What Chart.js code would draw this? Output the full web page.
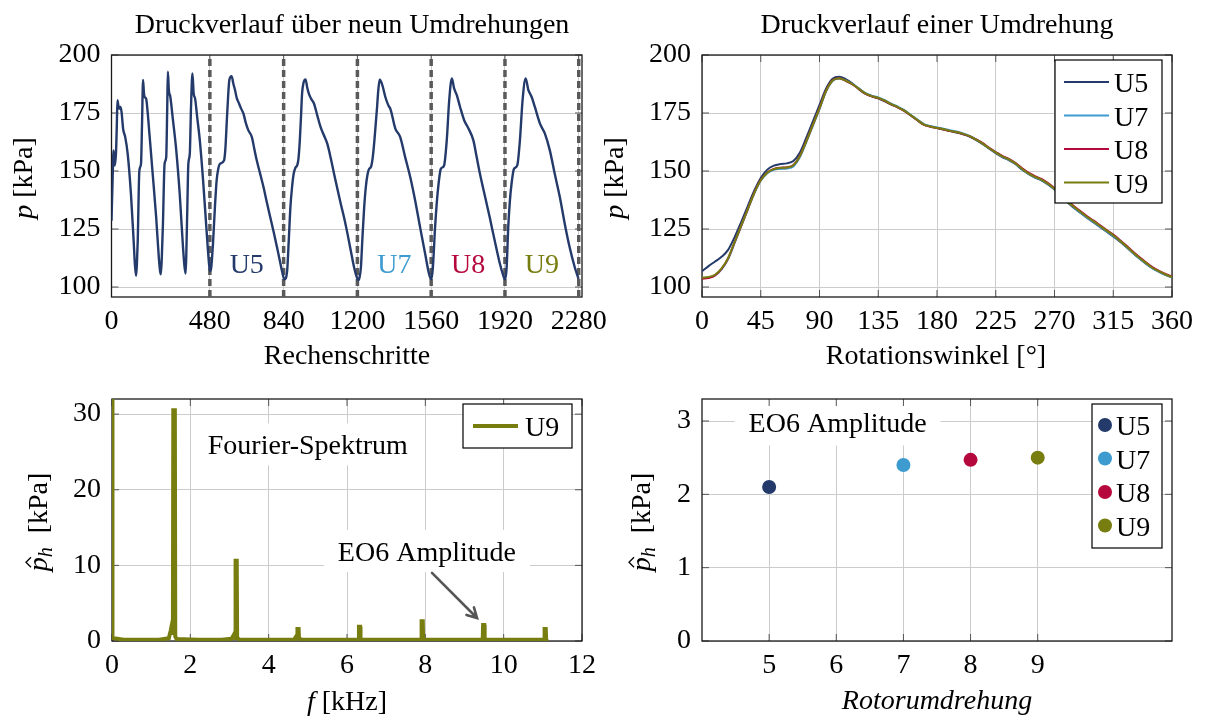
<!DOCTYPE html>
<html>
<head>
<meta charset="utf-8">
<script src="https://cdn.jsdelivr.net/npm/chart.js@4.4.1/dist/chart.umd.min.js"></script>
<style>
  body { margin: 0; background: #fff; }
  #wrap { position: relative; width: 1206px; height: 717px; }
  #wrap canvas { position: absolute; left: 0; top: 0; }
</style>
</head>
<body>
<div id="wrap">
  <canvas id="cycles" width="1206" height="717"></canvas>
  <canvas id="oneRev" width="1206" height="717"></canvas>
  <canvas id="spectrum" width="1206" height="717"></canvas>
  <canvas id="eo6" width="1206" height="717"></canvas>
</div>
<script>
// --- pressure over nine revolutions (simulation steps) ---
const stepIdx = [
  0, 5, 10, 16, 22, 26, 29, 33, 38, 43, 49, 57, 67, 79, 95, 108, 114, 120,
  124, 128, 136, 144, 149, 154, 158, 161, 169, 177, 185, 201, 218, 231, 237, 241,
  246, 251, 259, 267, 272, 275, 280, 287, 300, 316, 333, 349, 356, 362,
  366, 370, 375, 382, 388, 395, 401, 408, 418, 431, 447, 464, 474, 480,
  486, 496, 505, 513, 521, 529, 549, 556, 562, 569, 575, 586, 595, 603, 611, 619,
  632, 644, 656, 668, 685, 697, 709, 725, 742, 758, 775, 792, 808, 820, 832, 844,
  857, 865, 873, 881, 889, 898, 906, 912, 919, 925, 930, 937, 947, 955, 963, 975,
  988, 1004, 1020, 1036, 1053, 1070, 1086, 1103, 1119, 1136, 1152, 1168, 1184, 1196, 1204,
  1210, 1217, 1225, 1233, 1241, 1250, 1258, 1266, 1275, 1283, 1290, 1296, 1302, 1309,
  1318, 1324, 1336, 1350, 1362, 1385, 1409, 1433, 1458, 1482, 1506, 1531, 1550, 1560,
  1568, 1579, 1588, 1596, 1607, 1623, 1636, 1648, 1661, 1672, 1685, 1701, 1721, 1742,
  1766, 1782, 1798, 1815, 1831, 1847, 1863, 1880, 1896, 1910, 1920,
  1928, 1936, 1944, 1952, 1964, 1980, 1993, 2006, 2021, 2034, 2050, 2066, 2091, 2115,
  2139, 2163, 2188, 2212, 2236, 2261, 2279
];
const pStep = [
  128.6, 145, 158.9, 152.4, 158, 170, 180.5, 178.5, 176.9, 177.6, 175.5, 168, 164.6, 157.4, 140, 120, 110, 104.8,
  110, 119.9, 150.2, 153.1, 170.4, 189.2, 184, 182, 181.2, 174.7, 166.1, 148.8, 130, 112.7, 107, 105.5,
  114, 127.1, 153.1, 156, 177.6, 192.8, 184.8, 182, 171.9, 158.9, 140, 117, 109, 105.8,
  118, 134.3, 153.1, 157.4, 177.6, 192.1, 183.4, 181.2, 173.3, 163.2, 145.9, 124.2, 112, 106.9,
  108, 119.9, 135, 145.9, 151, 153.1, 154.5, 160, 170.4, 182, 189.2, 190.9, 187.5, 184.8, 181.5, 179.8,
  177, 174.7, 170.5, 167.5, 164.6, 159.5, 154.5, 149, 143, 136.5, 130, 123.5, 117, 112, 106.9, 103.3,
  106.9, 120, 134.3, 143, 148.8, 151.5, 152.4, 155, 163.2, 174, 183.4, 188, 189.5, 186, 183.4, 181,
  179.1, 174, 169, 165.5, 161.8, 155.5, 148.8, 142, 135.8, 129.5, 122.8, 115.5, 108.4, 104.5, 102.9,
  104, 108.4, 122, 134.3, 143, 148.8, 151, 151.7, 156, 163.2, 171, 177.6, 185, 189.5,
  188, 186.3, 182, 178.5, 176.5, 168.3, 164.6, 156, 147.3, 137.2, 125.7, 114.1, 105.5, 103.3,
  108, 125.7, 137, 144.4, 150.9, 152.4, 163.2, 180.5, 189.9, 185.6, 182.7, 177.6, 171.9, 168.3,
  163.2, 156, 148.8, 142, 135.8, 129.5, 122.8, 116, 109.8, 105.5, 103.3,
  108, 125.7, 137, 144.4, 150.9, 152.4, 163.2, 180.5, 189.9, 185, 182, 177.6, 170.4, 166.1,
  158.9, 148.8, 138.7, 127.2, 117, 108.4, 103.5
];
const revBounds = [480, 840, 1200, 1560, 1920, 2280];
const revNames = ['U5', 'U7', 'U8', 'U9'];
const revNameSteps = [660, 1380, 1740, 2100];
const stepTicks = [0, 480, 840, 1200, 1560, 1920, 2280];
const pTicks = [100, 125, 150, 175, 200];

// --- pressure over one revolution, 5° samples ---
const angles = [
  0, 5, 10, 15, 20, 25, 30, 35, 40, 45, 50, 55, 60, 65, 70, 75, 80, 85, 90, 95,
  100, 105, 110, 115, 120, 125, 130, 135, 140, 145, 150, 155, 160, 165, 170, 175, 180, 185, 190, 195,
  200, 205, 210, 215, 220, 225, 230, 235, 240, 245, 250, 255, 260, 265, 270, 275, 280, 285, 290, 295,
  300, 305, 310, 315, 320, 325, 330, 335, 340, 345, 350, 355, 360
];
const pU5 = [
  106.8, 109.0, 111.0, 113.0, 116.0, 121.5, 128.0, 134.8, 141.5, 147.0, 150.6, 152.3, 153.0, 153.3, 154.3, 158.0, 164.5, 171.5, 178.5, 185.5,
  189.8, 190.6, 189.6, 187.8, 185.4, 183.3, 182.2, 181.3, 180.0, 178.6, 177.4, 175.9, 173.9, 171.9, 170.0, 169.2, 168.5, 167.9, 167.2, 166.6,
  165.8, 164.8, 163.3, 161.6, 159.6, 157.7, 156.0, 154.7, 153.0, 150.7, 148.8, 147.2, 146.0, 144.2, 142.0, 139.2, 136.4, 134.1, 131.9, 129.8,
  127.8, 125.8, 123.8, 121.8, 119.6, 117.2, 114.7, 112.3, 110.1, 108.1, 106.6, 105.2, 104.1
];
const pU7 = [
  103.8, 104.1, 105.0, 107.6, 112.0, 119.0, 126.2, 133.3, 140.3, 145.8, 149.0, 150.5, 150.9, 151.1, 152.0, 156.0, 162.6, 169.6, 176.7, 184.2,
  188.8, 189.9, 189.0, 187.6, 185.7, 183.7, 182.5, 181.7, 180.5, 179.0, 177.7, 176.2, 174.2, 172.2, 170.2, 169.4, 168.8, 168.2, 167.6, 167.0,
  166.2, 165.1, 163.6, 161.8, 159.8, 158.0, 156.3, 154.9, 153.2, 150.9, 148.9, 147.4, 146.2, 144.4, 142.2, 139.4, 136.7, 134.3, 132.0, 129.9,
  128.0, 126.0, 124.0, 122.0, 119.8, 117.4, 114.8, 112.4, 110.2, 108.1, 106.6, 105.2, 104.1
];
const pU8 = [
  103.6, 103.9, 105.0, 107.8, 112.3, 119.3, 126.4, 133.5, 140.6, 146.1, 149.4, 150.9, 151.4, 151.6, 152.6, 156.6, 163.1, 170.1, 177.1, 184.6,
  189.1, 190.0, 188.9, 187.4, 185.4, 183.4, 182.2, 181.4, 180.2, 178.7, 177.4, 175.9, 173.9, 171.9, 169.9, 169.1, 168.5, 167.9, 167.2, 166.7,
  165.9, 165.0, 163.6, 162.0, 160.0, 158.2, 156.5, 155.2, 153.5, 151.3, 149.3, 147.8, 146.6, 144.8, 142.6, 139.8, 137.1, 134.8, 132.6, 130.5,
  128.6, 126.6, 124.6, 122.6, 120.3, 117.9, 115.3, 112.9, 110.7, 108.6, 107.0, 105.6, 104.5
];
const pU9 = [
  104.0, 104.3, 105.3, 108.0, 112.5, 119.5, 126.5, 133.5, 140.5, 146.0, 149.3, 150.8, 151.3, 151.5, 152.5, 156.5, 163.0, 170.0, 177.0, 184.5,
  189.0, 190.0, 189.0, 187.5, 185.5, 183.5, 182.3, 181.5, 180.3, 178.8, 177.5, 176.0, 174.0, 172.0, 170.0, 169.2, 168.6, 168.0, 167.3, 166.8,
  166.0, 165.0, 163.5, 161.8, 159.8, 158.0, 156.3, 155.0, 153.3, 151.0, 149.0, 147.5, 146.3, 144.5, 142.3, 139.5, 136.8, 134.5, 132.3, 130.2,
  128.3, 126.3, 124.3, 122.3, 120.0, 117.6, 115.0, 112.6, 110.4, 108.3, 106.8, 105.4, 104.3
];
const angleTicks = [0, 45, 90, 135, 180, 225, 270, 315, 360];

// --- Fourier spectrum of U9 ---
const freqKHz = [
  0, 0.012, 0.3, 0.8, 1.2, 1.45, 1.50, 1.535, 1.555, 1.565, 1.605, 1.615, 1.65, 2.2, 2.8,
  3.05, 3.10, 3.13, 3.145, 3.155, 3.185, 3.195, 3.25, 4.0, 4.65, 4.70, 4.725, 4.735, 4.765, 4.775,
  4.85, 5.6, 6.295, 6.305, 6.335, 6.345, 7.1, 7.895, 7.905, 7.935, 7.945, 8.7,
  9.465, 9.475, 9.505, 9.515, 10.3, 11.035, 11.045, 11.075, 11.085, 11.1
];
const ampU9 = [
  45, 0.4, 0.18, 0.15, 0.18, 0.35, 1.4, 2.3, 0.8, 30.5, 30.5, 0.6, 0.25, 0.15, 0.18,
  0.3, 0.7, 1.0, 0.4, 10.6, 10.6, 0.4, 0.2, 0.15, 0.2, 0.6, 0.3, 1.6, 1.6, 0.3,
  0.18, 0.15, 0.2, 1.9, 1.9, 0.2, 0.15, 0.2, 2.6, 2.6, 0.2, 0.15,
  0.2, 2.1, 2.1, 0.2, 0.15, 0.2, 1.6, 1.6, 0.2, 0.15
];
const freqTicks = [0, 2, 4, 6, 8, 10, 12];
const ampTicks = [0, 10, 20, 30];

// --- EO6 amplitude per rotor revolution ---
const rotorRev = [5, 7, 8, 9];
const eo6Names = ['U5', 'U7', 'U8', 'U9'];
const eo6Amp = [2.1, 2.4, 2.47, 2.5];
const revTicks = [5, 6, 7, 8, 9];
const eo6Ticks = [0, 1, 2, 3];

const seriesColor = { U5: '#233a6a', U7: '#3d9bd0', U8: '#b5093d', U9: '#787d0f' };

const SERIF = '"Liberation Serif", "DejaVu Serif", serif';
const FS = 28;
const font = (size, style) => (style ? style + ' ' : '') + size + 'px ' + SERIF;
const ROMAN = font(FS), ITALIC = font(FS, 'italic');

// draws a run of differently styled text pieces centred on x, baseline at y
function drawParts(ctx, parts, x, y, rot) {
  ctx.save();
  ctx.translate(x, y);
  if (rot) ctx.rotate(rot);
  ctx.textAlign = 'left';
  ctx.textBaseline = 'alphabetic';
  let w = 0;
  for (const p of parts) { ctx.font = p.font || ROMAN; w += ctx.measureText(p.t).width; }
  let cx = -w / 2;
  for (const p of parts) {
    ctx.font = p.font || ROMAN;
    ctx.fillStyle = p.color || '#000';
    const pw = ctx.measureText(p.t).width;
    ctx.fillText(p.t, cx, p.dy || 0);
    if (p.hat) {
      const hx = cx + pw / 2 + 2;
      ctx.strokeStyle = '#000';
      ctx.lineWidth = 1.3;
      ctx.beginPath();
      ctx.moveTo(hx - 5, -16); ctx.lineTo(hx, -21); ctx.lineTo(hx + 5, -16);
      ctx.stroke();
    }
    cx += pw;
  }
  ctx.restore();
}

// titles, axis labels, in-plot notes, arrow, frame with inward ticks
const panelText = {
  id: 'panelText',
  beforeDatasetsDraw(chart, args, o) {
    const { ctx, chartArea: a, scales: { x, y } } = chart;
    (o.notes || []).forEach(n => {
      const px = x.getPixelForValue(n.at[0]), py = y.getPixelForValue(n.at[1]);
      if (n.box) {
        ctx.fillStyle = '#fff';
        ctx.fillRect(px - n.box[0], py - n.box[1], n.box[0] * 2, n.box[1] * 2);
      }
      drawParts(ctx, n.parts, px, py + 10);
    });
    ctx.save();
    ctx.strokeStyle = '#555';
    ctx.lineWidth = 1;
    ctx.beginPath();
    x.ticks.forEach(t => {
      const px = x.getPixelForValue(t.value);
      ctx.moveTo(px, a.bottom); ctx.lineTo(px, a.bottom - 7);
      ctx.moveTo(px, a.top); ctx.lineTo(px, a.top + 7);
    });
    y.ticks.forEach(t => {
      const py = y.getPixelForValue(t.value);
      ctx.moveTo(a.left, py); ctx.lineTo(a.left + 7, py);
      ctx.moveTo(a.right, py); ctx.lineTo(a.right - 7, py);
    });
    ctx.stroke();
    ctx.strokeStyle = '#1a1a1a';
    ctx.lineWidth = 1.3;
    ctx.strokeRect(a.left, a.top, a.right - a.left, a.bottom - a.top);
    ctx.restore();
  },
  afterDatasetsDraw(chart, args, o) {
    const { ctx, scales: { x, y } } = chart;
    if (o.arrow) {
      const x0 = x.getPixelForValue(o.arrow.from[0]), y0 = y.getPixelForValue(o.arrow.from[1]);
      const x1 = x.getPixelForValue(o.arrow.to[0]), y1 = y.getPixelForValue(o.arrow.to[1]);
      const ang = Math.atan2(y1 - y0, x1 - x0);
      ctx.save();
      ctx.strokeStyle = '#555';
      ctx.lineWidth = 2.6;
      ctx.lineCap = 'round';
      ctx.beginPath();
      ctx.moveTo(x0, y0); ctx.lineTo(x1, y1);
      ctx.moveTo(x1 - 11 * Math.cos(ang - 0.5), y1 - 11 * Math.sin(ang - 0.5));
      ctx.lineTo(x1, y1);
      ctx.lineTo(x1 - 11 * Math.cos(ang + 0.5), y1 - 11 * Math.sin(ang + 0.5));
      ctx.stroke();
      ctx.restore();
    }
  },
  afterDraw(chart, args, o) {
    const { ctx } = chart;
    if (o.title) drawParts(ctx, o.title.parts, o.title.x, o.title.y);
    if (o.xTitle) drawParts(ctx, o.xTitle.parts, o.xTitle.x, o.xTitle.y);
    if (o.yTitle) drawParts(ctx, o.yTitle.parts, o.yTitle.x, o.yTitle.y, -Math.PI / 2);
  }
};

// framed legend inside the upper right corner of the plot
const boxLegend = {
  id: 'boxLegend',
  afterDatasetsDraw(chart, args, o) {
    if (!o.kind) return;
    const { ctx, chartArea: a } = chart;
    const items = chart.data.datasets.filter(d => d.label);
    const x0 = a.right - 10 - o.width, y0 = a.top + 5;
    ctx.save();
    ctx.fillStyle = '#fff';
    ctx.fillRect(x0, y0, o.width, o.height);
    ctx.strokeStyle = '#000';
    ctx.lineWidth = 1.2;
    ctx.strokeRect(x0, y0, o.width, o.height);
    ctx.font = ROMAN;
    ctx.textBaseline = 'alphabetic';
    ctx.textAlign = 'left';
    items.forEach((d, i) => {
      const yy = y0 + o.firstRow + i * o.rowGap;
      if (o.kind === 'line') {
        ctx.strokeStyle = d.borderColor;
        ctx.lineWidth = o.lineWidth;
        ctx.beginPath();
        ctx.moveTo(x0 + o.sampleX, yy); ctx.lineTo(x0 + o.sampleX + o.sampleW, yy);
        ctx.stroke();
      } else {
        ctx.fillStyle = d.backgroundColor;
        ctx.beginPath();
        ctx.arc(x0 + o.sampleX, yy, 7, 0, Math.PI * 2);
        ctx.fill();
      }
      ctx.fillStyle = '#000';
      ctx.fillText(d.label, x0 + o.textX, yy + 10);
    });
    ctx.restore();
  }
};

function axis(min, max, tickVals, horizontal, pad) {
  return {
    type: 'linear', min: min, max: max,
    afterBuildTicks: s => { s.ticks = tickVals.map(v => ({ value: v })); },
    afterFit: s => { if (horizontal) s.height = 60; else s.width = 60; },
    grid: { color: '#cccccc', lineWidth: 1, drawTicks: false },
    border: { display: false },
    ticks: {
      color: '#000', font: { family: SERIF, size: FS }, padding: pad,
      autoSkip: false, maxRotation: 0, callback: v => String(v)
    }
  };
}

// plot rectangles on the page: left, top, right, bottom
function options(box, scales, text, legend) {
  return {
    responsive: false, animation: false, events: [],
    layout: { padding: { left: box[0] - 60, top: box[1], right: 1206 - box[2], bottom: 717 - box[3] - 60 } },
    scales: scales,
    plugins: { legend: { display: false }, tooltip: { enabled: false }, panelText: text, boxLegend: legend || {} }
  };
}

const P_KPA = [{ t: 'p', font: ITALIC }, { t: ' [kPa]' }];
const PH_KPA = [{ t: 'p', font: ITALIC, hat: true }, { t: 'h', font: font(20, 'italic'), dy: 5 }, { t: '  [kPa]' }];

new Chart(document.getElementById('cycles'), {
  type: 'line',
  data: {
    datasets: [
      {
        data: stepIdx.map((s, i) => ({ x: s, y: pStep[i] })),
        borderColor: seriesColor.U5, borderWidth: 2.4, pointRadius: 0, cubicInterpolationMode: 'monotone'
      },
      ...revBounds.map(b => ({
        data: [{ x: b, y: 95.7 }, { x: b, y: 200 }],
        borderColor: '#5a5a5a', borderWidth: 3.5, borderDash: [7, 4], pointRadius: 0
      }))
    ]
  },
  options: options([111.5, 55, 582, 297], {
    x: axis(0, 2296, stepTicks, true, 8),
    y: axis(95.7, 200, pTicks, false, 11)
  }, {
    title: { parts: [{ t: 'Druckverlauf über neun Umdrehungen' }], x: 352, y: 33 },
    xTitle: { parts: [{ t: 'Rechenschritte' }], x: 347, y: 364 },
    yTitle: { parts: P_KPA, x: 32, y: 178 },
    notes: revNames.map((n, i) => ({ at: [revNameSteps[i], 110.3], parts: [{ t: n, color: seriesColor[n] }] }))
  }),
  plugins: [panelText, boxLegend]
});

new Chart(document.getElementById('oneRev'), {
  type: 'line',
  data: {
    datasets: [['U5', pU5, 4], ['U7', pU7, 3], ['U8', pU8, 2], ['U9', pU9, 1]].map(([n, vals, ord]) => ({
      label: n, order: ord,
      data: angles.map((a, i) => ({ x: a, y: vals[i] })),
      borderColor: seriesColor[n], borderWidth: 2, pointRadius: 0, cubicInterpolationMode: 'monotone'
    }))
  },
  options: options([702, 55, 1172, 297], {
    x: axis(0, 360, angleTicks, true, 8),
    y: axis(95.7, 200, pTicks, false, 11)
  }, {
    title: { parts: [{ t: 'Druckverlauf einer Umdrehung' }], x: 937, y: 33 },
    xTitle: { parts: [{ t: 'Rotationswinkel [°]' }], x: 936, y: 364 },
    yTitle: { parts: P_KPA, x: 623, y: 178 }
  }, { kind: 'line', width: 107, height: 143, firstRow: 22, rowGap: 33.5, sampleX: 9, sampleW: 45, textX: 59, lineWidth: 2 }),
  plugins: [panelText, boxLegend]
});

new Chart(document.getElementById('spectrum'), {
  type: 'line',
  data: {
    datasets: [{
      label: 'U9',
      data: freqKHz.map((f, i) => ({ x: f, y: ampU9[i] })),
      borderColor: seriesColor.U9, borderWidth: 4, pointRadius: 0, tension: 0
    }]
  },
  options: options([112, 399, 582, 641], {
    x: axis(0, 12, freqTicks, true, 8),
    y: axis(0, 32, ampTicks, false, 11)
  }, {
    xTitle: { parts: [{ t: 'f', font: ITALIC }, { t: ' [kHz]' }], x: 347, y: 710 },
    yTitle: { parts: PH_KPA, x: 47, y: 522 },
    notes: [
      { at: [5.0, 26.0], box: [112, 21], parts: [{ t: 'Fourier-Spektrum' }] },
      { at: [8.04, 11.9], box: [103, 21], parts: [{ t: 'EO6 Amplitude' }] }
    ],
    arrow: { from: [8.17, 9.0], to: [9.32, 3.04] }
  }, { kind: 'line', width: 109, height: 44, firstRow: 22, rowGap: 33, sampleX: 10, sampleW: 45, textX: 62, lineWidth: 4 }),
  plugins: [panelText, boxLegend]
});

new Chart(document.getElementById('eo6'), {
  type: 'scatter',
  data: {
    datasets: eo6Names.map((n, i) => ({
      label: n,
      data: [{ x: rotorRev[i], y: eo6Amp[i] }],
      backgroundColor: seriesColor[n], borderWidth: 0, pointRadius: 7
    }))
  },
  options: options([702, 399, 1172, 641], {
    x: axis(4, 11, revTicks, true, 8),
    y: axis(0, 3.3, eo6Ticks, false, 11)
  }, {
    xTitle: { parts: [{ t: 'Rotorumdrehung', font: ITALIC }], x: 937, y: 709 },
    yTitle: { parts: PH_KPA, x: 650, y: 522 },
    notes: [{ at: [6.02, 2.98], box: [103, 23], parts: [{ t: 'EO6 Amplitude' }] }]
  }, { kind: 'dot', width: 70, height: 144, firstRow: 21, rowGap: 33.5, sampleX: 13, textX: 24 }),
  plugins: [panelText, boxLegend]
});
</script>
</body>
</html>
